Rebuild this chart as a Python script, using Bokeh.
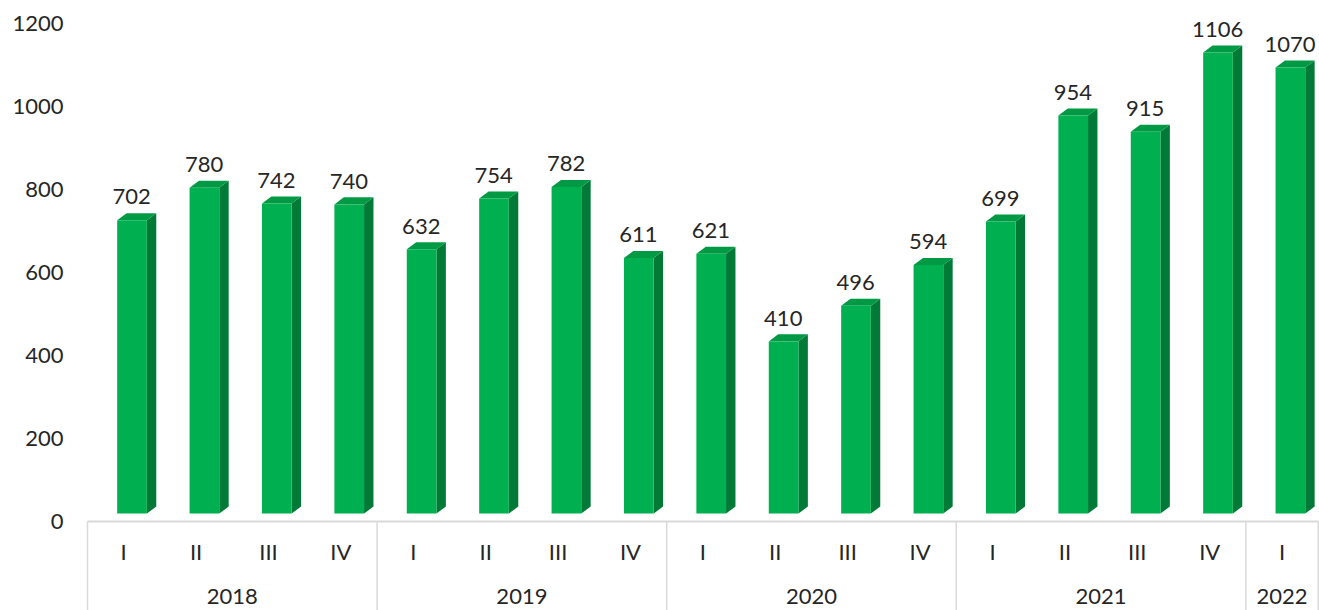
from bokeh.plotting import figure
from bokeh.models import Range1d, FixedTicker, ColumnDataSource
from bokeh.core.properties import value
from bokeh.embed import file_html
from bokeh.resources import INLINE

# ---- data ----
values = [702, 780, 742, 740, 632, 754, 782, 611, 621, 410, 496, 594, 699, 954, 915, 1106, 1070]
quarters = ["I", "II", "III", "IV", "I", "II", "III", "IV", "I", "II", "III", "IV",
            "I", "II", "III", "IV", "I"]
years = ["2018", "2019", "2020", "2021", "2022"]
year_sizes = [4, 4, 4, 4, 1]
y_ticks = [0, 200, 400, 600, 800, 1000, 1200]

FONT = "Lato"
TXT = "#262626"
FRONT = "#00B050"
TOP = "#009A45"
SIDE = "#007A36"
GRID = "#D9D9D9"

p = figure(width=1319, height=610, output_backend="svg", toolbar_location=None,
           x_range=Range1d(-0.1934, 17.017), y_range=Range1d(-214.5, 1255.4),
           x_axis_location=None, min_border_left=73, min_border_right=0,
           min_border_top=0, min_border_bottom=0)
p.outline_line_color = None
p.xgrid.visible = False
p.ygrid.visible = False
ax = p.yaxis[0]
ax.ticker = FixedTicker(ticks=y_ticks)
ax.axis_line_color = None
ax.major_tick_line_color = None
ax.minor_tick_line_color = None
ax.major_tick_out = 0
ax.major_tick_in = 0
ax.major_label_standoff = 10
ax.major_label_text_font = FONT
ax.major_label_text_font_size = "22px"
ax.major_label_text_color = TXT

# ---- 3D bar geometry (in data units) ----
n = len(values)
b0 = 19.0      # front bottom
off = 24.0     # front top offset
dx = 0.13      # depth in slot units
dy = 17.0      # depth in value units
fl, fr = -0.09, 0.32

front_xs, front_ys, side_xs, side_ys, top_xs, top_ys = [], [], [], [], [], []
for i, v in enumerate(values):
    c = i + 0.5
    xl, xr = c + fl, c + fr
    t = v + off
    front_xs.append([xl, xr, xr, xl]); front_ys.append([b0, b0, t, t])
    side_xs.append([xr, xr + dx, xr + dx, xr]); side_ys.append([b0, b0 + dy, t + dy, t])
    top_xs.append([xl, xr, xr + dx, xl + dx]); top_ys.append([t, t, t + dy, t + dy])

p.patches(side_xs, side_ys, fill_color=SIDE, line_color=None)
p.patches(top_xs, top_ys, fill_color=TOP, line_color=None)
p.patches(front_xs, front_ys, fill_color=FRONT, line_color=None)

# value labels
lab = ColumnDataSource(dict(x=[i + 0.5 + 0.11 for i in range(n)],
                            y=[v + 80 for v in values],
                            t=[str(v) for v in values]))
p.text(x="x", y="y", text="t", source=lab, text_align="center", text_baseline="alphabetic",
       text_font=value(FONT), text_font_size="22px", text_color=TXT)

# category axis line and separators
p.segment(x0=[0], y0=[0], x1=[n], y1=[0], line_color=GRID, line_width=2)
bounds = [0]
for s in year_sizes:
    bounds.append(bounds[-1] + s)
p.segment(x0=bounds, y0=[0] * len(bounds), x1=bounds, y1=[-214.5] * len(bounds),
          line_color=GRID, line_width=1.5)

# quarter labels
ql = ColumnDataSource(dict(x=[i + 0.5 for i in range(n)], y=[-72] * n, t=quarters))
p.text(x="x", y="y", text="t", source=ql, text_align="center", text_baseline="alphabetic",
       text_font=value(FONT), text_font_size="22px", text_color=TXT)

# year labels
yc = [(bounds[k] + bounds[k + 1]) / 2 for k in range(len(years))]
yl = ColumnDataSource(dict(x=yc, y=[-180] * len(years), t=years))
p.text(x="x", y="y", text="t", source=yl, text_align="center", text_baseline="alphabetic",
       text_font=value(FONT), text_font_size="22px", text_color=TXT)

open("out.html", "w").write(file_html(p, INLINE))
